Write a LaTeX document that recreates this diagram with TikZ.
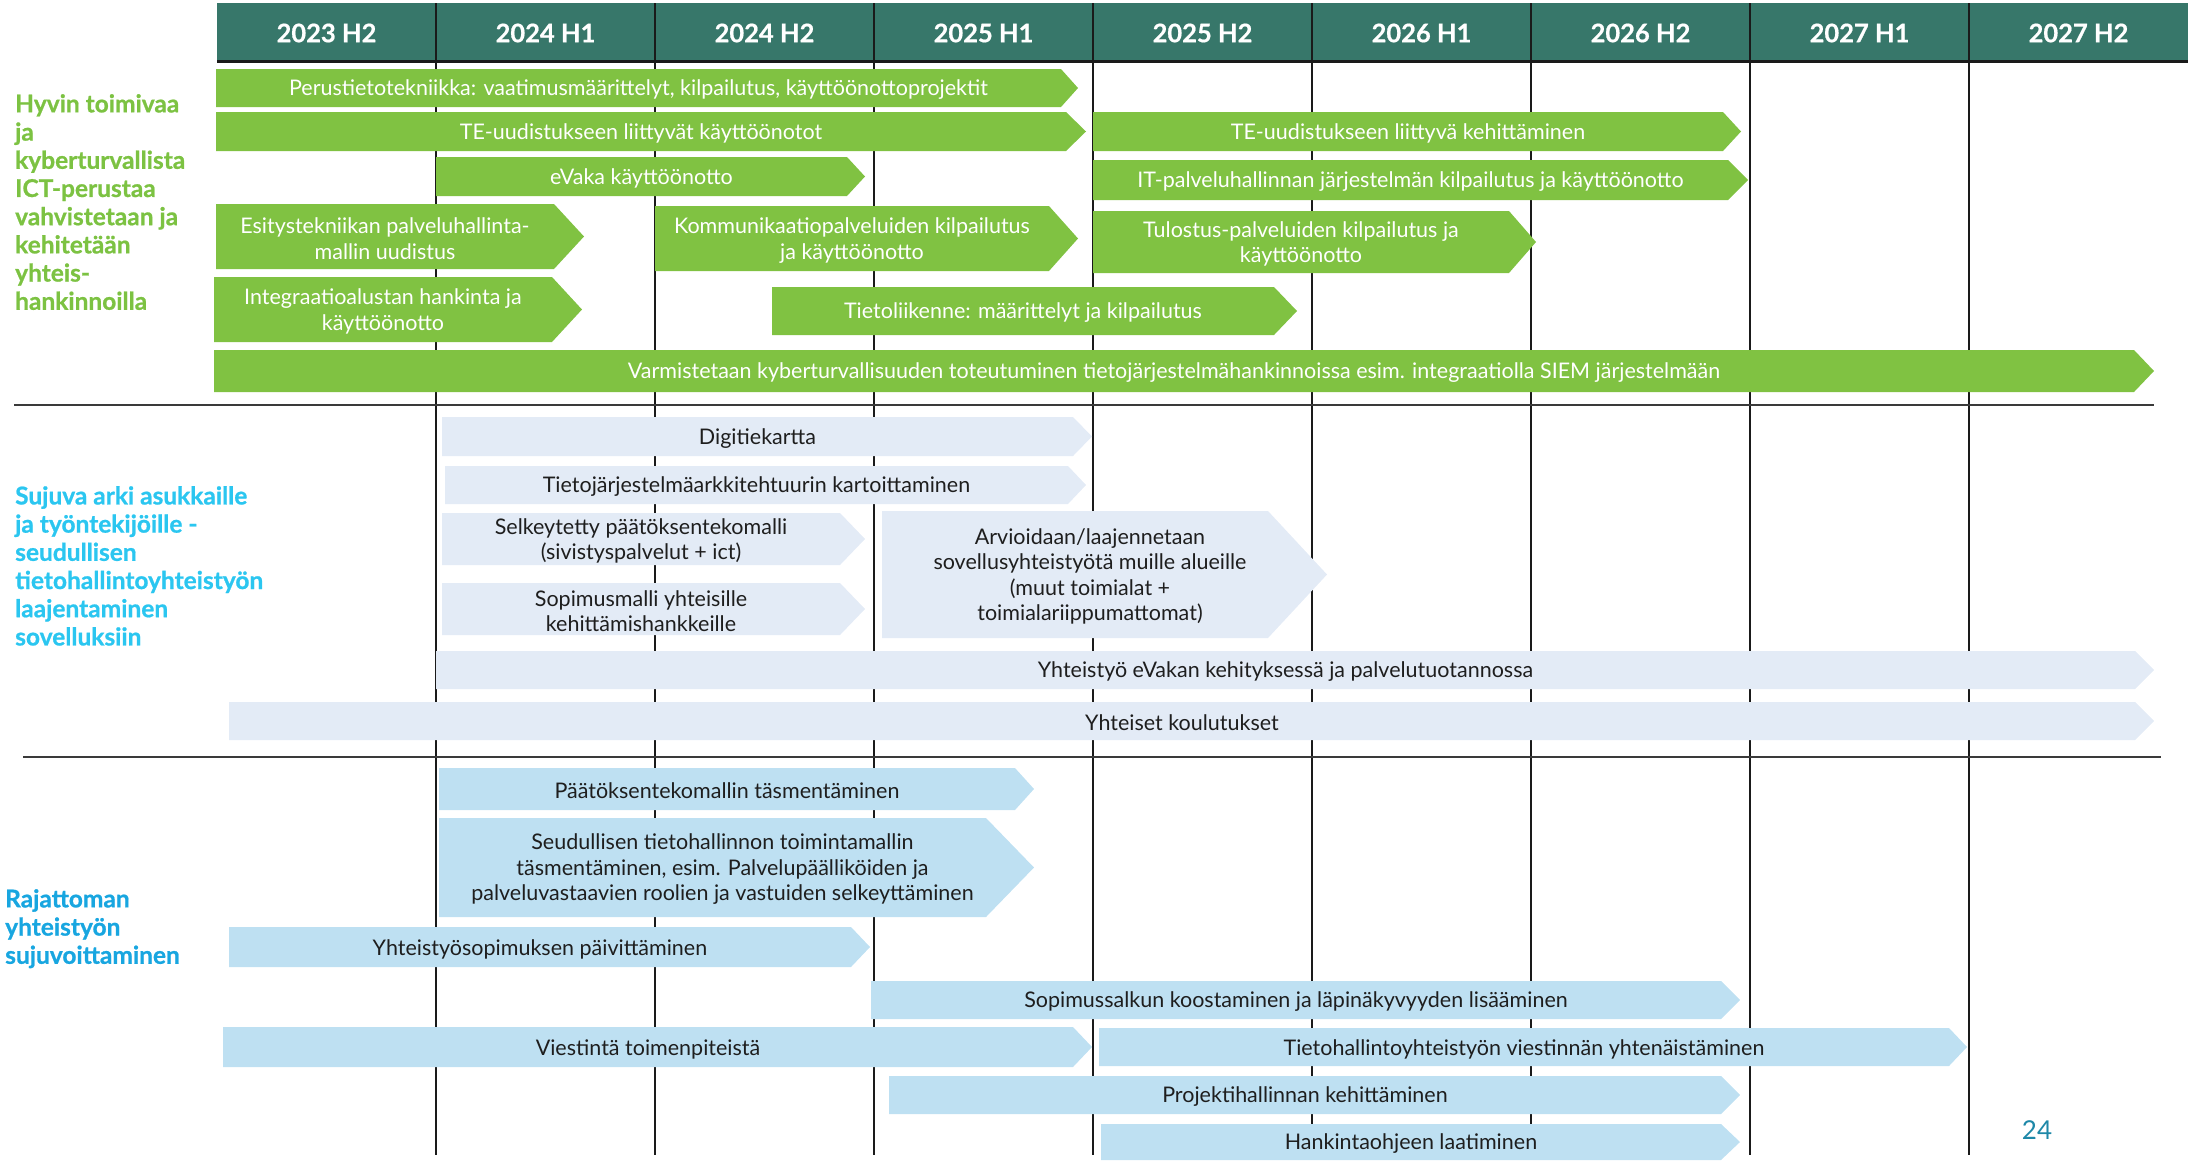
\documentclass[tikz,border=0pt]{standalone}
\usepackage{fontspec}
\setmainfont{Lato}
\definecolor{hdr}{HTML}{37776A}
\definecolor{cgreen}{HTML}{80C242}
\definecolor{lgreen}{HTML}{7CC242}
\definecolor{cyanlab}{HTML}{2BC6F0}
\definecolor{bluelab}{HTML}{18A6E0}
\definecolor{grayblue}{HTML}{E3EBF6}
\definecolor{lblue}{HTML}{BEE0F2}
\definecolor{pnum}{HTML}{1E88A8}
\definecolor{txt}{HTML}{1E1E1E}
\definecolor{gridc}{HTML}{1A1A1A}
\definecolor{sepc}{HTML}{3A3A3A}
\newcommand{\tlbar}[9][]{%
  \fill[#3] (#4,#5) -- (#6,#5) -- (#7,{(#5+#8)/2}) -- (#6,#8) -- (#4,#8) -- cycle;
  \node[#3 label,#1] (#2) at ({(#4+#6)/2},{(#5+#8)/2}) {#9};}
\tikzset{
  gA/.style={fill=cgreen},
  sA/.style={fill=grayblue},
  bA/.style={fill=lblue},
  barlabel/.style={align=center, inner sep=0pt, yshift=-2pt, font=\fontsize{21.5}{25.5}\selectfont},
  gA label/.style={barlabel, text=white},
  sA label/.style={barlabel, text=txt},
  bA label/.style={barlabel, text=txt},
  hdrtext/.style={text=white, font=\fontsize{25.5}{30}\selectfont\bfseries\addfontfeature{FakeBold=0.6}, inner sep=0pt},
  seclabel/.style={align=left, anchor=north west, inner sep=0pt, font=\fontsize{24.5}{28.2}\selectfont\bfseries\addfontfeature{FakeBold=0.8}},
  gridline/.style={draw=gridc, line width=2.4pt},
  sepline/.style={draw=sepc, line width=2pt}
}
\begin{document}
\begin{tikzpicture}[x=1pt,y=-1pt]
\useasboundingbox (0,0) rectangle (2190,1160);
% header
\fill[hdr] (217,3) rectangle (2188,62);
\draw[draw=gridc, line width=3pt] (217,61) -- (2188,61);
% grid lines
\foreach \i in {1,...,8} {
  \draw[gridline] ({217+219*\i},3) -- ({217+219*\i},1155);
}
% header labels
\foreach \t [count=\i from 0] in {2023 H2,2024 H1,2024 H2,2025 H1,2025 H2,2026 H1,2026 H2,2027 H1,2027 H2} {
  \node[hdrtext] (h\i) at ({217+219*(\i+0.5)},33) {\t};
}
% separators
\draw[sepline] (14,405) -- (2154,405);
\draw[sepline] (23,757) -- (2161,757);
% section labels
\node[seclabel, text=lgreen] (lab1) at (15,94) {Hyvin toimivaa\\ja\\kyberturvallista\\ICT-perustaa\\vahvistetaan ja\\kehitetään\\yhteis-\\hankinnoilla};
\node[seclabel, text=cyanlab] (lab2) at (15,486) {Sujuva arki asukkaille\\ja työntekijöille -\\seudullisen\\tietohallintoyhteistyön\\laajentaminen\\sovelluksiin};
\node[seclabel, text=bluelab] (lab3) at (5,889) {Rajattoman\\yhteistyön\\sujuvoittaminen};
% section 1
\tlbar{p1}{gA}{216}{69}{1061}{1078}{107}{Perustietotekniikka: vaatimusmäärittelyt, kilpailutus, käyttöönottoprojektit}
\tlbar{p2}{gA}{216}{112}{1066}{1086}{151}{TE-uudistukseen liittyvät käyttöönotot}
\tlbar{p3}{gA}{1093}{112}{1723}{1741}{151}{TE-uudistukseen liittyvä kehittäminen}
\tlbar{p4}{gA}{436}{157}{847}{865}{196}{eVaka käyttöönotto}
\tlbar{p5}{gA}{1093}{160}{1728}{1748}{200}{IT-palveluhallinnan järjestelmän kilpailutus ja käyttöönotto}
\tlbar{p6}{gA}{216}{204}{554}{584}{269}{Esitystekniikan palveluhallinta-\\mallin uudistus}
\tlbar{p7}{gA}{655}{206}{1049}{1078}{271}{Kommunikaatiopalveluiden kilpailutus\\ja käyttöönotto}
\tlbar{p8}{gA}{1093}{211}{1509}{1536}{273}{Tulostus-palveluiden kilpailutus ja\\käyttöönotto}
\tlbar{p9}{gA}{214}{277}{552}{582}{342}{Integraatioalustan hankinta ja\\käyttöönotto}
\tlbar{p10}{gA}{772}{287}{1274}{1297}{335}{Tietoliikenne: määrittelyt ja kilpailutus}
\tlbar{p11}{gA}{214}{350}{2134}{2154}{392}{Varmistetaan kyberturvallisuuden toteutuminen tietojärjestelmähankinnoissa esim. integraatiolla SIEM järjestelmään}
% section 2
\tlbar{s1}{sA}{442}{417}{1073}{1092}{456}{Digitiekartta}
\tlbar{s2}{sA}{445}{466}{1068}{1086}{504}{Tietojärjestelmäarkkitehtuurin kartoittaminen}
\tlbar{s3}{sA}{442}{513}{840}{865}{565}{Selkeytetty päätöksentekomalli\\(sivistyspalvelut + ict)}
\tlbar{s4}{sA}{442}{583}{840}{865}{635}{Sopimusmalli yhteisille\\kehittämishankkeille}
\tlbar[xshift=15pt]{s5}{sA}{882}{511}{1268}{1327}{638}{Arvioidaan/laajennetaan\\sovellusyhteistyötä muille alueille\\(muut toimialat +\\toimialariippumattomat)}
\tlbar{s6}{sA}{436}{651}{2135}{2154}{689}{Yhteistyö eVakan kehityksessä ja palvelutuotannossa}
\tlbar{s7}{sA}{229}{702}{2135}{2154}{740}{Yhteiset koulutukset}
% section 3
\tlbar{b1}{bA}{439}{768}{1015}{1034}{810}{Päätöksentekomallin täsmentäminen}
\tlbar[xshift=10pt]{b2}{bA}{439}{818}{986}{1034}{917}{Seudullisen tietohallinnon toimintamallin\\täsmentäminen, esim. Palvelupäälliköiden ja\\palveluvastaavien roolien ja vastuiden selkeyttäminen}
\tlbar{b3}{bA}{229}{927}{851}{870}{967}{Yhteistyösopimuksen päivittäminen}
\tlbar{b4}{bA}{871}{981}{1721}{1740}{1019}{Sopimussalkun koostaminen ja läpinäkyvyyden lisääminen}
\tlbar{b5}{bA}{223}{1027}{1073}{1092}{1067}{Viestintä toimenpiteistä}
\tlbar{b6}{bA}{1099}{1028}{1949}{1967}{1066}{Tietohallintoyhteistyön viestinnän yhtenäistäminen}
\tlbar{b7}{bA}{889}{1076}{1721}{1740}{1114}{Projektihallinnan kehittäminen}
\tlbar{b8}{bA}{1101}{1124}{1721}{1740}{1160}{Hankintaohjeen laatiminen}
% page number
\node[text=pnum, font=\fontsize{26}{30}\selectfont, inner sep=0pt] (pagenum) at (2037,1130) {24};
\end{tikzpicture}
\end{document}
